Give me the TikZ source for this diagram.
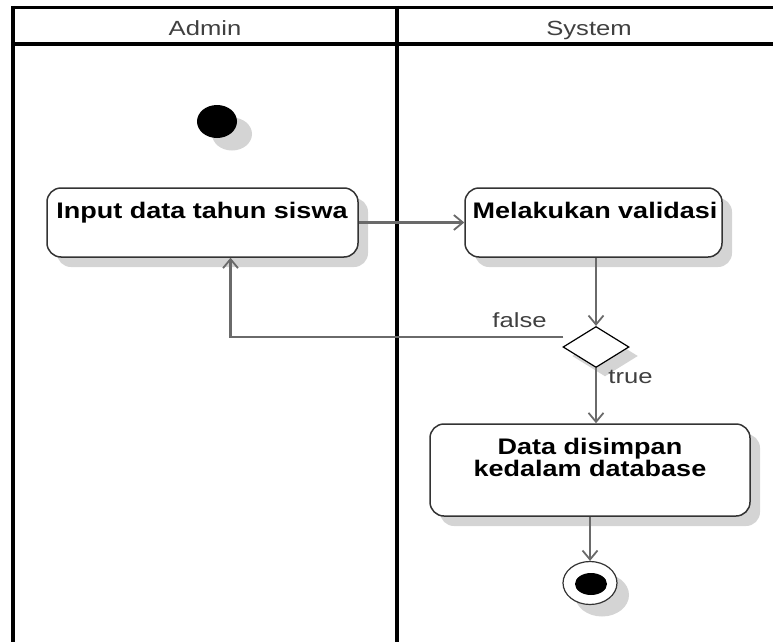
\documentclass[tikz,border=0pt]{standalone}
\usepackage{fontspec}
\setmainfont{Liberation Sans}
\usetikzlibrary{arrows.meta,shapes.geometric,shadows,calc}
\definecolor{flowgray}{HTML}{6A6A6A}
\definecolor{boxline}{HTML}{333333}
\definecolor{shadowgray}{HTML}{D4D4D4}
\definecolor{labelgray}{HTML}{404040}
\newcommand{\bt}[1]{\scalebox{1.2}[1]{\fontsize{22.5}{23}\selectfont\bfseries #1}}
\newcommand{\rt}[1]{\scalebox{1.25}[1]{\fontsize{20.5}{21}\selectfont #1}}
\begin{document}
\begin{tikzpicture}[x=1pt,y=-1pt,
  lane/.style={line width=4pt,black},
  topline/.style={line width=3pt,black},
  actbox/.style={draw=boxline,line width=1.5pt,fill=white,rounded corners=14pt,
     rectangle,inner sep=0pt,
     general shadow={fill=shadowgray,shadow xshift=10pt,shadow yshift=-10pt}},
  decision/.style={diamond,draw=black,line width=1.2pt,fill=white,inner sep=0pt,
     minimum width=66pt,minimum height=41pt,
     general shadow={fill=shadowgray,shadow xshift=9pt,shadow yshift=-9pt}},
  flow/.style={draw=flowgray,line width=2.5pt,-{Straight Barb[length=9pt,width=15pt,line width=1.8pt]}},
  boxtext/.style={anchor=base,inner sep=0pt,text=black},
  lbltext/.style={anchor=base,inner sep=0pt,text=labelgray}]
\useasboundingbox (0,0) rectangle (773,642);
% swimlane frame
\draw[topline] (11,7.5) -- (773,7.5);
\draw[lane] (11,44) -- (773,44);
\draw[lane] (13,6) -- (13,642);
\draw[lane] (397,6) -- (397,642);
\node[lbltext] (hadmin) at (205,36) {\rt{Admin}};
\node[lbltext] (hsystem) at (589,36) {\rt{System}};
% start node
\fill[shadowgray] (232,134) ellipse [x radius=20, y radius=16.5];
\node[ellipse,fill=black,minimum width=40pt,minimum height=33pt,inner sep=0pt] (start) at (217,121.5) {};
% activities
\node[actbox,minimum width=311pt,minimum height=69pt] (box1) at (202.5,222.5) {};
\node[boxtext] (t1) at (202,218) {\bt{Input data tahun siswa}};
\node[actbox,minimum width=257pt,minimum height=69pt] (box2) at (593.5,222.5) {};
\node[boxtext] (t2) at (595,218) {\bt{Melakukan validasi}};
\node[decision] (dia) at (596,347) {};
\node[actbox,minimum width=320pt,minimum height=92pt] (box3) at (590,470) {};
\node[boxtext] (t3a) at (590,454) {\bt{Data disimpan}};
\node[boxtext] (t3b) at (590,476) {\bt{kedalam database}};
% end node
\fill[shadowgray] (602,595) ellipse [x radius=27, y radius=21.5];
\node[ellipse,draw=boxline,line width=1.2pt,fill=white,minimum width=54pt,minimum height=43pt,inner sep=0pt] (endc) at (590,583) {};
\node[ellipse,fill=black,minimum width=32pt,minimum height=22pt,inner sep=0pt] (endin) at (591,584) {};
% connectors
\draw[flow] (box1.east) -- (box2.west);
\draw[flow] (dia.north |- box2.south) -- (dia.north);
\draw[flow] ($(dia.west)+(1,-10)$) -| ([xshift=28pt]box1.south);
\draw[flow] (dia.south) -- (dia.south |- box3.north);
\draw[flow] (box3.south) -- (endc.north);
\node[lbltext] (lfalse) at (519.5,327) {\rt{false}};
\node[lbltext] (ltrue) at (630.5,383) {\rt{true}};
\end{tikzpicture}
\end{document}
